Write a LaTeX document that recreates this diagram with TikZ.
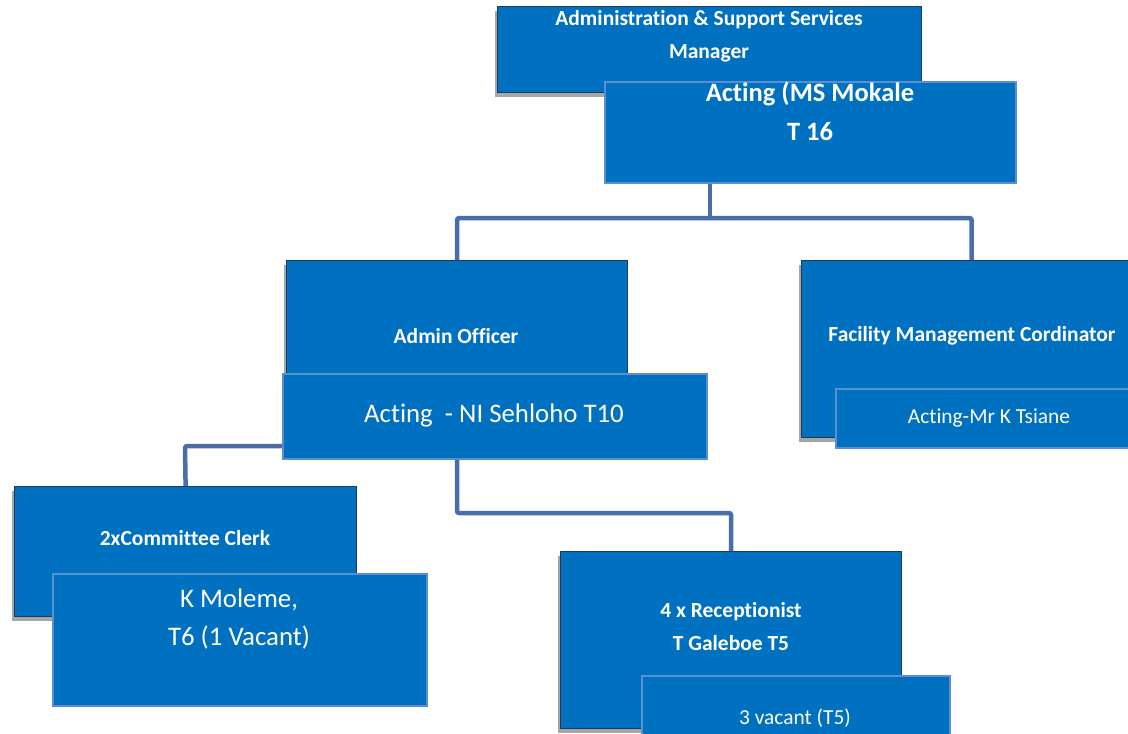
\documentclass[tikz,border=0pt]{standalone}
\usepackage{fontspec}
\setmainfont{Carlito}[Ligatures=NoCommon]
\usetikzlibrary{shadows}
\definecolor{boxfill}{HTML}{0070C0}
\definecolor{darkedge}{HTML}{1F3A60}
\definecolor{lightedge}{HTML}{5B8FD0}
\definecolor{linkcol}{HTML}{4A6FA8}
\tikzset{
  headbox/.style={draw=darkedge, line width=1.2pt, fill=boxfill, anchor=north west,
    inner sep=0pt, drop shadow={shadow xshift=-3pt, shadow yshift=-4pt, opacity=0.35, fill=black}},
  namebox/.style={draw=lightedge, line width=1.5pt, fill=boxfill, anchor=north west, inner sep=0pt},
  conn/.style={draw=linkcol, line width=4.5pt, rounded corners=2pt, line join=round},
  txt/.style={text=white, align=center, inner sep=0pt},
  boldtxt/.style={txt, font=\bfseries\fontsize{21.5}{33}\selectfont},
  bigtxt/.style={txt, font=\fontsize{26.8}{38}\selectfont},
  smalltxt/.style={txt, font=\fontsize{21.4}{24}\selectfont},
}
\begin{document}
\begin{tikzpicture}[x=1pt, y=-1pt]
\useasboundingbox (0,0) rectangle (1128,734);

% manager
\node[headbox, minimum width=424pt, minimum height=86pt] (mgr) at (497,6) {};
\node[boldtxt] (mgrt) at (709,36) {Administration \& Support Services\\Manager};
\node[namebox, minimum width=411pt, minimum height=101pt] (mgrn) at (604,81) {};
\node[txt, font=\bfseries\fontsize{26.5}{39}\selectfont] (mgrnt) at (810,111) {Acting (MS Mokale\\T 16};

% admin officer
\node[headbox, minimum width=341pt, minimum height=120pt] (ao) at (286,260) {};
\node[boldtxt] (aot) at (456,336) {Admin Officer};
\node[namebox, minimum width=424pt, minimum height=85pt] (ni) at (282,373) {};
\node[bigtxt] (nit) at (494,415) {Acting\ \ - NI Sehloho T10};

% facility management
\node[headbox, minimum width=340pt, minimum height=177pt] (fm) at (801,260) {};
\node[boldtxt] (fmt) at (972,336) {Facility Management Cordinator};
\node[namebox, minimum width=320pt, minimum height=59pt] (fmn) at (835,388) {};
\node[smalltxt] (fmnt) at (989,418) {Acting-Mr K Tsiane};

% committee clerks
\node[headbox, minimum width=342pt, minimum height=130pt] (cc) at (14,486) {};
\node[boldtxt] (cct) at (185,538) {2xCommittee Clerk};
\node[namebox, minimum width=374pt, minimum height=132pt] (ccn) at (52,573) {};
\node[bigtxt] (ccnt) at (239,619) {K Moleme,\\T6 (1 Vacant)};

% receptionists
\node[headbox, minimum width=341pt, minimum height=177pt] (rc) at (560,551) {};
\node[boldtxt] (rct) at (731,627) {4 x Receptionist\\T Galeboe T5};
\node[namebox, minimum width=308pt, minimum height=70pt] (rcn) at (641,675) {};
\node[smalltxt] (rcnt) at (795,718) {3 vacant (T5)};

% reporting lines
\coordinate (j1) at (710,218);
\coordinate (j2) at (185,446);
\coordinate (j3) at (457,513);
\draw[conn] (j1 |- mgrn.south) -- (j1);
\draw[conn] (ao.north) -- (ao.north |- j1) -- (fm.north |- j1) -- (fm.north);
\draw[conn] (cc.north) -- (j2) -- (j2 -| ni.west);
\draw[conn] (j3 |- ni.south) -- (j3) -| (rc.north);
\end{tikzpicture}
\end{document}
